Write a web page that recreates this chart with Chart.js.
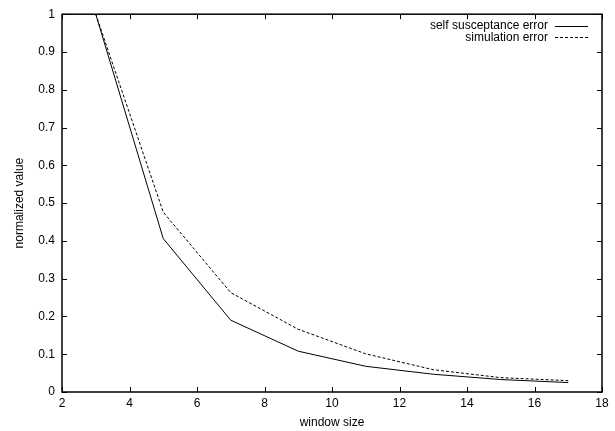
<!DOCTYPE html>
<html><head><meta charset="utf-8">
<script src="https://cdn.jsdelivr.net/npm/chart.js@4"></script>
<style>html,body{margin:0;padding:0;background:#fff}</style>
</head><body>
<canvas id="c" width="615" height="431"></canvas>
<script>
const windowSizes = [3, 5, 7, 9, 11, 13, 15, 17];
const selfSusceptanceError = [1, 0.406, 0.19, 0.108, 0.068, 0.047, 0.033, 0.025];
const simulationError = [1, 0.476, 0.263, 0.166, 0.101, 0.059, 0.038, 0.030];
const seriesLabels = ['self susceptance error', 'simulation error'];
const xTickLabels = ['2', '4', '6', '8', '10', '12', '14', '16', '18'];
const yTickLabels = ['0', '0.1', '0.2', '0.3', '0.4', '0.5', '0.6', '0.7', '0.8', '0.9', '1'];
const xTitle = 'window size';
const yTitle = 'normalized value';

const FONT = 'Liberation Sans, Arial, Helvetica, sans-serif';

const gnuplotFrame = {
  id: 'gnuplotFrame',
  afterDatasetsDraw(chart) {
    const { ctx, chartArea: a, scales: { x, y } } = chart;
    ctx.save();
    ctx.strokeStyle = '#000';
    ctx.lineWidth = 1;
    ctx.setLineDash([]);
    const tl = 5;
    ctx.beginPath();
    x.ticks.forEach(t => {
      const px = Math.round(x.getPixelForValue(t.value)) + 0.5;
      ctx.moveTo(px, a.bottom); ctx.lineTo(px, a.bottom - tl);
      ctx.moveTo(px, a.top); ctx.lineTo(px, a.top + tl);
    });
    y.ticks.forEach(t => {
      const py = Math.round(y.getPixelForValue(t.value)) + 0.5;
      ctx.moveTo(a.left, py); ctx.lineTo(a.left + tl, py);
      ctx.moveTo(a.right, py); ctx.lineTo(a.right - tl, py);
    });
    ctx.stroke();
    ctx.lineWidth = 1.5;
    ctx.strokeRect(a.left, a.top, a.right - a.left, a.bottom - a.top);

    // legend (gnuplot style: text then sample)
    ctx.font = '12px ' + FONT;
    ctx.fillStyle = '#000';
    ctx.textAlign = 'right';
    ctx.textBaseline = 'middle';
    chart.data.datasets.forEach((ds, i) => {
      const ly = a.top + 11.5 + i * 11.5;
      ctx.fillText(ds.label, a.right - 54, ly);
      ctx.lineWidth = 1;
      ctx.setLineDash(ds.borderDash || []);
      ctx.beginPath();
      ctx.moveTo(a.right - 47, Math.round(ly) + 0.5);
      ctx.lineTo(a.right - 14, Math.round(ly) + 0.5);
      ctx.stroke();
    });
    ctx.restore();
  }
};

new Chart(document.getElementById('c'), {
  type: 'line',
  data: {
    datasets: [
      {
        label: seriesLabels[0],
        data: windowSizes.map((v, i) => ({ x: v, y: selfSusceptanceError[i] })),
        borderColor: '#000', borderWidth: 1, pointRadius: 0, tension: 0, fill: false
      },
      {
        label: seriesLabels[1],
        data: windowSizes.map((v, i) => ({ x: v, y: simulationError[i] })),
        borderColor: '#000', borderWidth: 1, borderDash: [3, 2], pointRadius: 0, tension: 0, fill: false
      }
    ]
  },
  options: {
    responsive: false,
    animation: false,
    devicePixelRatio: 1,
    layout: { padding: { top: 12, right: 13, left: 0, bottom: 0 } },
    plugins: { legend: { display: false }, tooltip: { enabled: false } },
    scales: {
      x: {
        type: 'linear', min: 2, max: 18,
        afterBuildTicks: s => { s.ticks = xTickLabels.map(v => ({ value: Number(v) })); },
        afterFit: s => { s.height = 39; },
        grid: { display: false, drawTicks: false },
        border: { display: false },
        ticks: { color: '#000', font: { family: FONT, size: 12 }, padding: 4, maxRotation: 0,
                 callback: (v) => xTickLabels.find(l => Number(l) === v) },
        title: { display: true, text: xTitle, color: '#000', font: { family: FONT, size: 12 }, padding: { top: 2, bottom: 1 } }
      },
      y: {
        type: 'linear', min: 0, max: 1,
        afterBuildTicks: s => { s.ticks = yTickLabels.map(v => ({ value: Number(v) })); },
        afterFit: s => { s.width = 62; },
        grid: { display: false, drawTicks: false },
        border: { display: false },
        ticks: { color: '#000', font: { family: FONT, size: 12 }, padding: 7,
                 callback: (v) => yTickLabels.find(l => Math.abs(Number(l) - v) < 1e-9) },
        title: { display: true, text: yTitle, color: '#000', font: { family: FONT, size: 12 }, padding: { top: 12, bottom: 0 } }
      }
    }
  },
  plugins: [gnuplotFrame]
});
</script>
</body></html>
